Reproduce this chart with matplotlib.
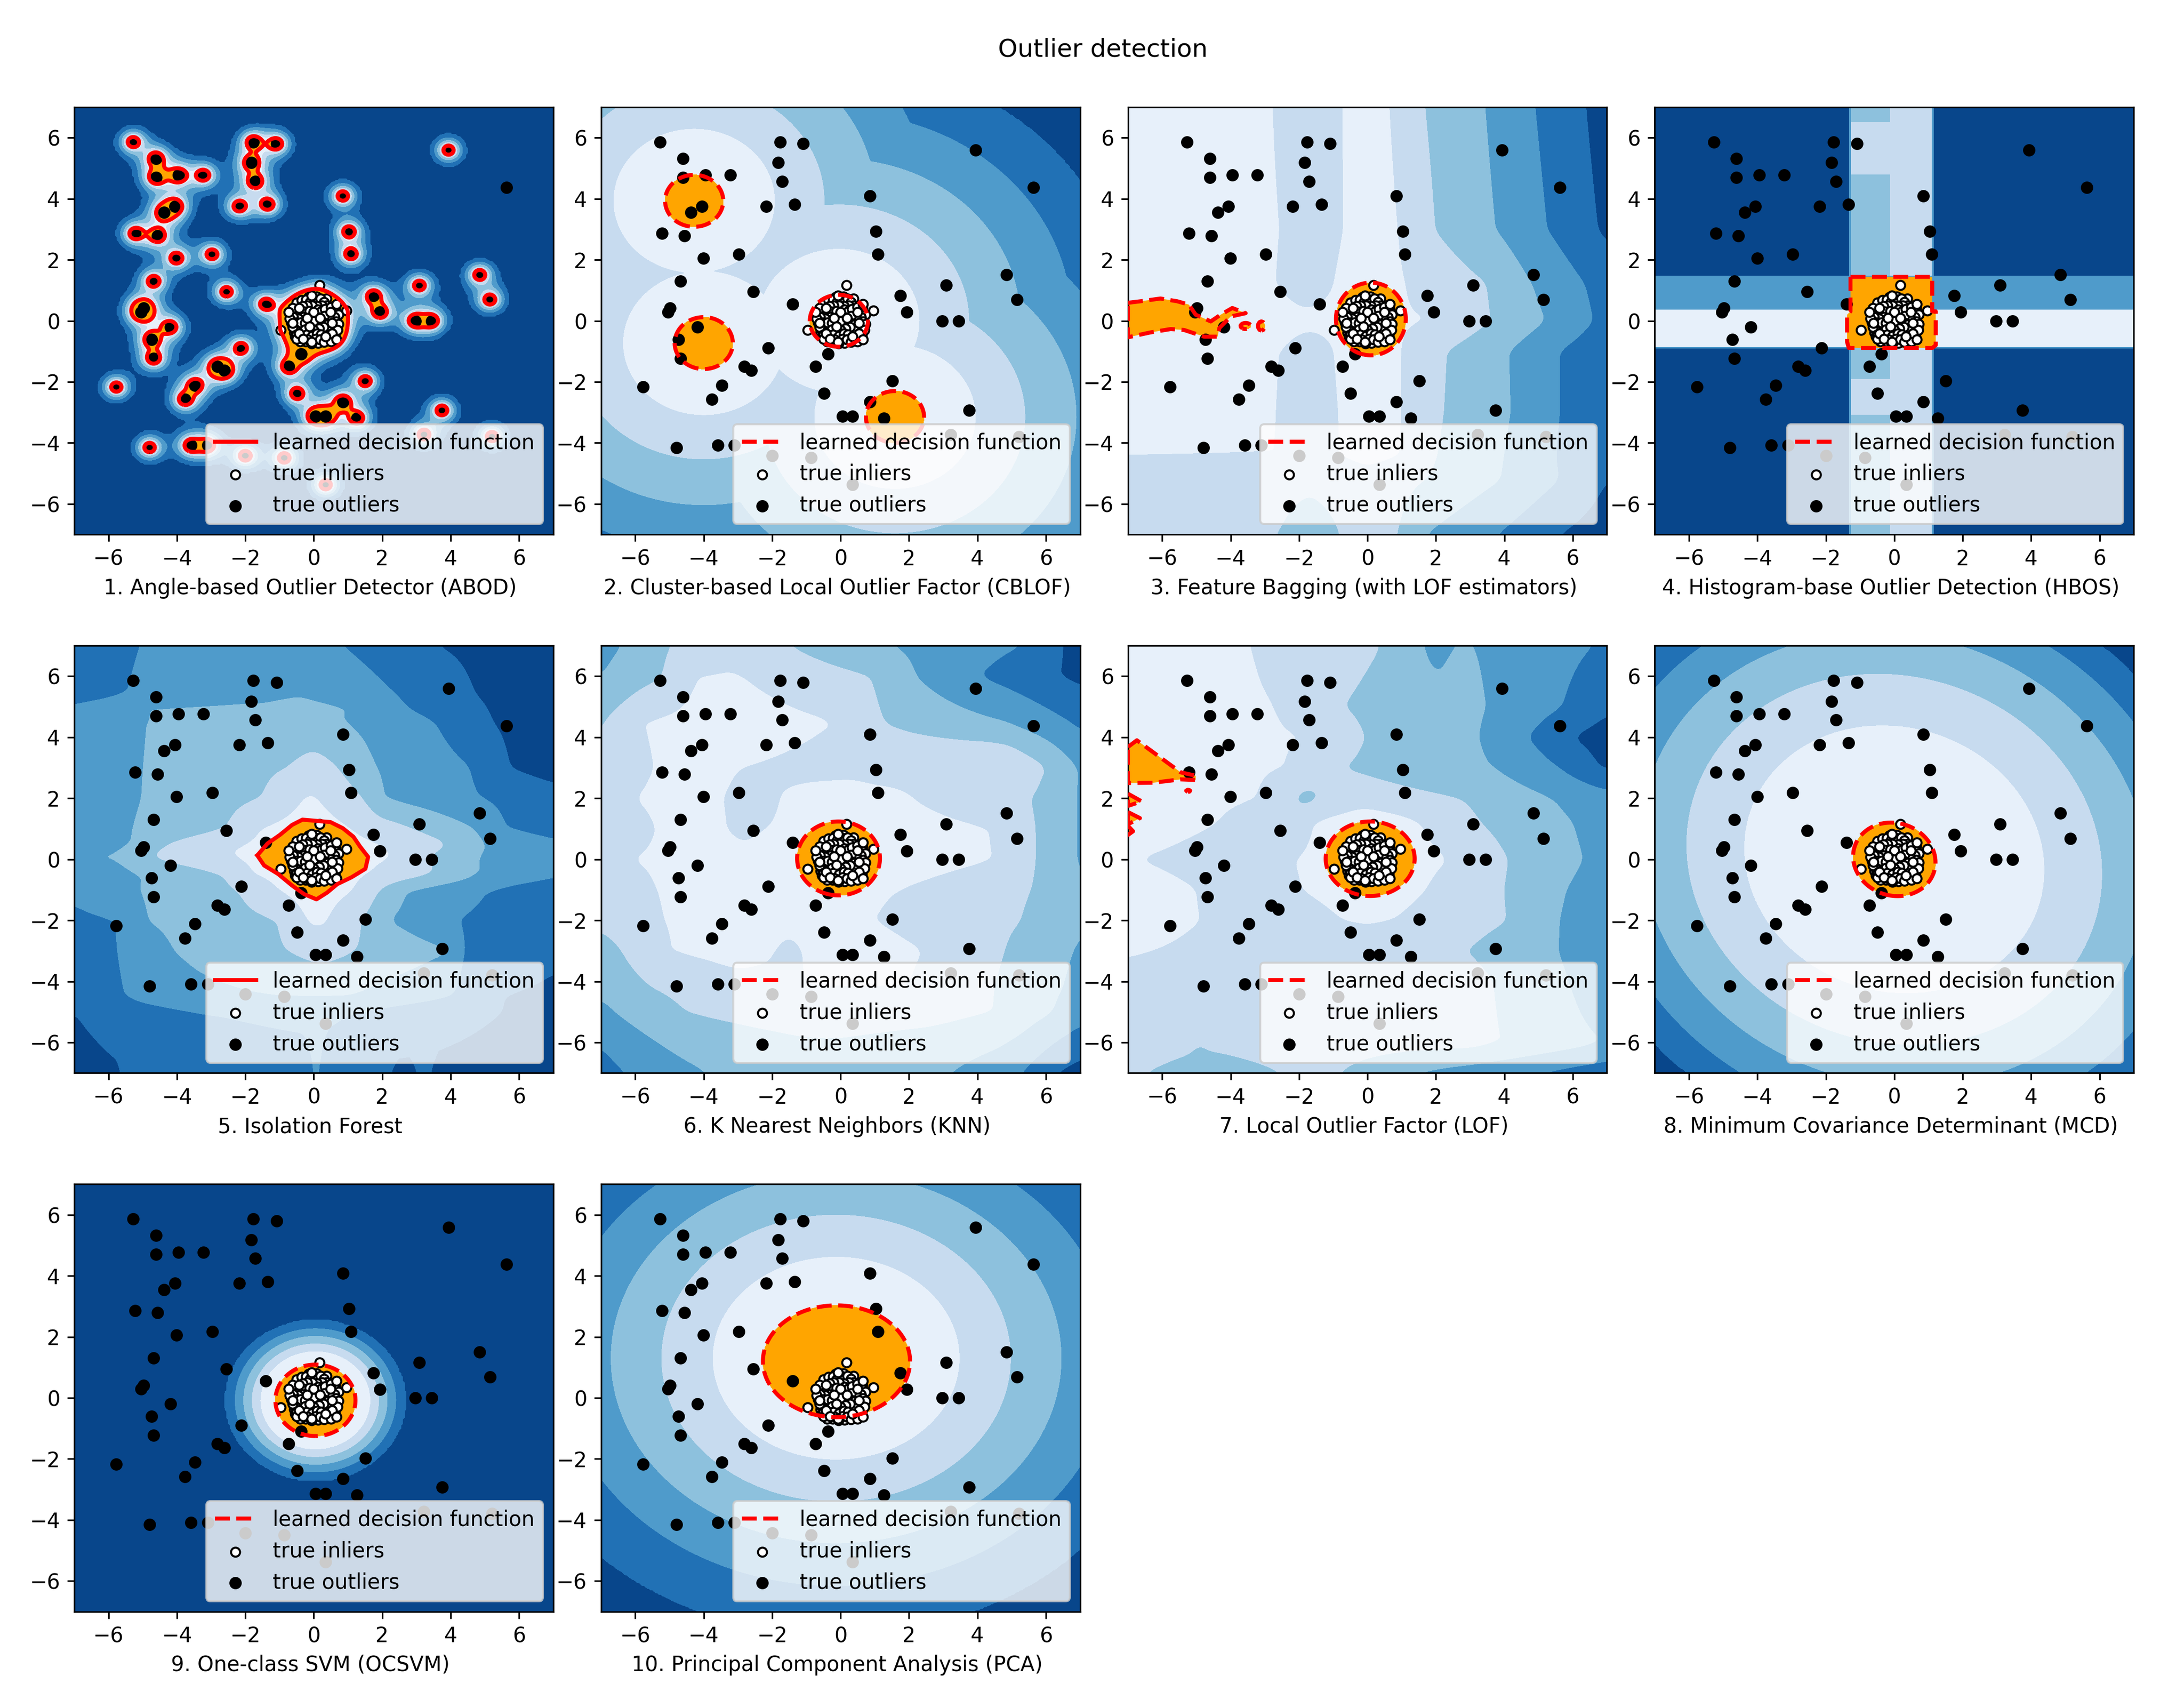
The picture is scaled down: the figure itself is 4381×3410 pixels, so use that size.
import numpy as np
from matplotlib import pyplot as plt

titles = [
    "1. Angle-based Outlier Detector (ABOD)",
    "2. Cluster-based Local Outlier Factor (CBLOF)",
    "3. Feature Bagging (with LOF estimators)",
    "4. Histogram-base Outlier Detection (HBOS)",
    "5. Isolation Forest",
    "6. K Nearest Neighbors (KNN)",
    "7. Local Outlier Factor (LOF)",
    "8. Minimum Covariance Determinant (MCD)",
    "9. One-class SVM (OCSVM)",
    "10. Principal Component Analysis (PCA)",
]

outliers_x = [-5.28, -4.61, -4.61, -3.95, -3.22, -4.06, -4.37, -5.22, -4.56, -4.01,
              -2.97, -4.68, -2.55, -4.98, -5.04, -4.19, -4.74, -4.68, -2.12, -2.81,
              -2.61, -3.47, -3.76, -5.77, -4.80, -3.59, -3.10, -2.00, -0.86, 0.35,
              3.22, 5.21, -1.77, -1.09, -1.83, -1.71, -2.18, -1.34, 0.85, 1.03,
              1.09, 3.94, 5.63, 4.85, 5.15, 3.09, 1.75, 1.94, 2.97, 3.45,
              -1.40, -0.37, -0.73, -0.49, 1.51, 0.85, 0.05, 0.35, 1.27, 3.75]
outliers_y = [5.86, 5.32, 4.70, 4.77, 4.77, 3.75, 3.55, 2.86, 2.79, 2.05,
              2.18, 1.30, 0.95, 0.41, 0.29, -0.20, -0.61, -1.23, -0.89, -1.50,
              -1.63, -2.11, -2.58, -2.17, -4.15, -4.08, -4.08, -4.42, -4.49, -5.37,
              -3.73, -3.79, 5.86, 5.80, 5.18, 4.57, 3.75, 3.81, 4.09, 2.93,
              2.18, 5.59, 4.37, 1.51, 0.69, 1.16, 0.82, 0.28, 0.00, 0.00,
              0.55, -1.09, -1.50, -2.38, -1.97, -2.65, -3.13, -3.13, -3.19, -2.93]

inliers_x = [-0.42, -0.28, -0.15, 0.00, 0.08, 0.26, 0.35, 0.44, 0.17, -0.10, -0.38, -0.48,
             -0.62, -0.34, -0.18, 0.06, 0.27, 0.40, 0.55, 0.64, 0.52, 0.36, 0.14, -0.02,
             -0.22, -0.36, -0.55, -0.66, -0.44, -0.30, -0.14, 0.02, 0.20, 0.34, 0.48, 0.60,
             0.68, 0.60, 0.46, 0.33, 0.19, 0.05, -0.10, -0.26, -0.40, -0.58, -0.54, -0.40,
             -0.28, -0.10, 0.06, 0.24, 0.37, 0.51, 0.62, 0.48, 0.28, 0.12, -0.06, -0.24,
             -0.40, 0.38, 0.08,
             -0.50, -0.35, -0.22, -0.10, 0.05, 0.12, 0.20, 0.30, 0.38, 0.25, 0.10, -0.05,
             -0.20, -0.32, -0.55, -0.40, -0.28, -0.12, 0.12, 0.22, 0.33, 0.62, 0.72, 0.60,
             0.45, 0.30, 0.05, -0.08, -0.30, -0.45, -0.60, -0.70, -0.52, -0.38, -0.25, -0.02,
             0.10, 0.28, 0.40, 0.65, 0.72, 0.70, 0.42, 0.28, 0.15, 0.00, -0.25, -0.55,
             -0.62, -0.50, -0.35, -0.20, -0.05, 0.10, 0.22, 0.42, 0.58, -0.18, 0.05, 0.18,
             0.30, -0.50, 0.50, -0.62, 0.50, 0.00,
             0.17, -0.07, -0.43, -0.73, 0.00, 0.66, 0.96, 0.49, 0.18, -0.19,
             -0.61, -0.12, 0.54, -0.97, -0.43, 0.54, -0.31, -0.07, 0.66, 0.34]
inliers_y = [0.54, 0.58, 0.78, 0.55, 0.80, 0.68, 0.56, 0.38, 0.42, 0.40, 0.36, 0.18,
             0.20, 0.20, 0.22, 0.24, 0.24, 0.25, 0.18, 0.42, 0.04, 0.02, 0.00, 0.06,
             0.02, -0.02, -0.12, -0.05, -0.18, -0.16, -0.14, -0.16, -0.12, -0.18, -0.02, -0.16,
             -0.24, -0.40, -0.36, -0.34, -0.34, -0.40, -0.36, -0.38, -0.36, -0.38, -0.52, -0.58,
             -0.52, -0.58, -0.52, -0.54, -0.60, -0.62, -0.48, -0.40, -0.62, -0.72, -0.74, -0.68,
             -0.68, 0.72, -0.18,
             0.60, 0.68, 0.70, 0.62, 0.70, 0.62, 0.72, 0.62, 0.50, 0.50, 0.48, 0.50,
             0.50, 0.48, 0.30, 0.25, 0.30, 0.32, 0.36, 0.30, 0.38, 0.30, 0.20, 0.12,
             0.12, 0.15, 0.15, 0.12, 0.12, 0.08, 0.12, 0.08, -0.05, -0.05, -0.08, -0.02,
             -0.08, -0.05, -0.12, -0.02, -0.10, -0.30, -0.28, -0.20, -0.25, -0.30, -0.28, -0.28,
             -0.20, -0.45, -0.48, -0.45, -0.50, -0.42, -0.45, -0.52, -0.55, -0.62, -0.60, -0.62,
             -0.70, -0.60, -0.68, 0.42, 0.45, 0.00,
             1.16, 0.83, 0.42, 0.29, 0.29, 0.55, 0.34, 0.29, 0.09, 0.09,
             -0.08, -0.19, -0.08, -0.31, -0.41, -0.41, -0.60, -0.69, -0.62, -0.52]

# soft distance from the points where each colour band stops (ABOD)
abod_radii = [0.15, 0.2, 0.25, 0.32, 0.41, 0.52]
abod_softness = 0.24
abod_inlier_weight = 0.1

cblof_centers_x = [-0.05, -4.28, -4.0, 1.59]
cblof_centers_y = [0.0, 3.93, -0.73, -3.15]
cblof_radii = [0.85, 2.35, 3.8, 5.3, 6.8, 8.4]

hbos_x = [-7, -1.33, -1.26, -0.13, 1.09, 1.16, 7]
hbos_y = [-7, -3.07, -1.9, -0.9, -0.85, 0.37, 1.47, 4.8, 6.5, 7]
hbos_bands = [
    [0, 2, 3, 4, 2, 0],
    [0, 2, 4, 4, 2, 0],
    [0, 2, 3, 4, 2, 0],
    [2, 2, 3, 4, 2, 2],
    [5, 5, 5, 5, 5, 5],
    [2, 2, 2, 2, 2, 2],
    [0, 2, 3, 4, 2, 0],
    [0, 2, 4, 4, 2, 0],
    [0, 2, 3, 4, 2, 0],
]
hbos_outline_x = [-1.28, 1.11, 1.11, 1.21, 1.21, 1.11, -1.33, -1.38, -1.38, -1.28]
hbos_outline_y = [1.44, 1.44, 0.31, 0.31, -0.8, -0.89, -0.89, -0.69, 0.2, 0.31]

# rows of (y, x knots, band value at the knots)
bag_rows = [
    (7, [-7, -2.7, -1.7, -0.7, 0, 0.65, 1.65, 3.45, 4.9, 6.4, 7], [5.5, 5, 4.5, 5, 5.5, 5, 4, 3, 2, 1, 0.5]),
    (3, [-7, -2.5, -1.6, -0.7, 0.1, 0.9, 1.95, 3.75, 5.25, 6.75, 7], [5.5, 5, 4.5, 5, 5.5, 5, 4, 3, 2, 1, 0.8]),
    (1.2, [-7, -2.6, -1.8, -1.0, 0, 1.1, 3.5, 4.8, 6.35, 7], [5.5, 5, 4.5, 5, 5.5, 5, 4, 3, 2, 1.6]),
    (0, [-7, 1.96, 3.6, 5.2, 6.6, 7], [5.6, 5, 4, 3, 2, 1.7]),
    (-1, [-7, -2.5, -1.7, -1, 0, 1.0, 2.3, 4.15, 5.6, 7], [5.5, 5, 4.5, 5, 5.5, 5, 4, 3, 2, 1.3]),
    (-3, [-7, -2.6, -1.7, -0.85, 0, 1.0, 2.2, 4.2, 5.6, 7], [5.5, 5, 4.5, 5, 5.5, 5, 4, 3, 2, 1.3]),
    (-4.4, [-7, -2.6, -1.7, -0.85, 0, 1.0, 2.0, 4.0, 5.5, 7], [5, 5, 4.5, 5, 5.3, 5, 4, 3, 2, 1.2]),
    (-5.2, [-7, -2.6, -1.7, -0.8, 0, 0.9, 1.7, 3.9, 5.6, 7], [4.6, 4.3, 4.2, 4.3, 4.6, 4.3, 4, 3, 2, 1]),
    (-7, [-7, -2.6, -1.7, -0.8, 0, 0.9, 1.7, 3.8, 5.6, 7], [4.5, 4, 3.5, 4, 4.5, 4, 3, 2, 1, 0.5]),
]
bag_blobs = [(0.1, 0.06, 1.02, 1.19), (-3.56, -0.17, 0.15, 0.1), (-3.1, -0.17, 0.1, 0.15)]
bag_outline_x = [-7, -6.63, -6.05, -5.56, -5.22, -5.02, -4.58, -4.29, -3.95, -3.56, -4, -4.33, -4.38, -4.77, -5.36, -5.75, -6.34, -7]
bag_outline_y = [0.59, 0.64, 0.73, 0.64, 0.53, 0.2, -0.02, 0.2, 0.42, 0.25, 0.14, -0.24, -0.52, -0.52, -0.3, -0.27, -0.38, -0.54]

iforest_rows = [
    (7, [-7, -5.1, -2, 0.85, 3.6, 7], [1.5, 2, 2.5, 2, 1, 0.5]),
    (5.4, [-7, -5.1, -2, -0.4, 0.9, 2.4, 4.7, 7], [1.6, 2.1, 2.8, 2.95, 2.6, 2, 1, 0.5]),
    (5.0, [-7, -5, -4.9, -2.5, -1.5, -0.4, 1.0, 2.7, 5, 7], [2.1, 2.6, 3.02, 3.05, 3.05, 3.2, 3, 2, 1, 0.5]),
    (4.5, [-7, -4.9, -2, 0.9, 3.55, 5.2, 7], [2.4, 3, 3.5, 3, 2, 1, 0.5]),
    (3, [-7, -5, -0.75, 0, 0.7, 1.8, 4.6, 5.7, 7], [2.4, 3, 4, 4.5, 4, 3, 2, 1, 0.6]),
    (2, [-7, -5.05, -1.5, -0.3, -0.1, 0.1, 1.45, 2.0, 4.9, 7], [2.3, 3, 4, 5, 5.1, 5, 4, 3, 2, 1.4]),
    (1, [-7, -5.3, -2.55, -1.6, 0, 1.1, 2.9, 4.7, 5.6, 7], [2.3, 3, 4, 5, 5.5, 5, 4, 3, 2, 1.6]),
    (0.5, [-7, -5.3, -4.3, -2.1, 0, 2.0, 4.0, 5, 7], [2.3, 3, 4, 5, 5.5, 5, 4, 3, 2.2]),
    (0.1, [-7, -5.7, -4.9, -2.6, 0, 2.4, 3.4, 4.8, 7], [3.1, 3.1, 4, 5, 5.5, 5, 4, 3, 2.2]),
    (-0.5, [-7, -5, -2.6, -1.8, 0, 1.6, 3.5, 4.8, 7], [2.2, 3, 4, 5, 5.5, 5, 4, 3, 2.2]),
    (-1, [-7, -5.1, -2.2, -1.05, 0, 1.2, 1.9, 2.7, 5.1, 7], [2.2, 3, 4, 5, 5.5, 5, 4, 3, 2, 1.3]),
    (-2, [-7, -5.7, -4.9, -1, -0.2, 0.1, 0.4, 1.4, 2.2, 4.2, 7], [1.8, 2, 3, 4, 5, 5.2, 5, 4, 3, 2, 1.3]),
    (-3, [-7, -5.7, -4.1, -0.75, 0.2, 1.2, 4.0, 4.3, 7], [1.6, 2, 3, 4, 4.4, 4, 3, 2, 1.2]),
    (-4.5, [-7, -5.5, -3.5, -1, 1, 4, 5.5, 7], [1.5, 2, 2.7, 3, 3, 2.0, 1, 0.8]),
    (-5, [-7, -5.6, -3.2, 0, 3, 5.5, 7], [1, 1.6, 2, 2.3, 1.5, 1, 0.7]),
    (-7, [-7, -5.6, -5.5, -0.2, 0, 0.2, 0.3, 2.2, 2.3, 3, 3.05, 3.4, 3.45, 7],
     [0.5, 0.9, 1.3, 1.5, 2.2, 2.2, 1.5, 1.2, 0.8, 0.8, 1.2, 1.2, 0.8, 0.5]),
]
iforest_outline_x = [-1.65, -1.35, -0.99, -0.63, -0.33, 0.08, 0.49, 0.85, 1.16, 1.36, 1.59, 1.51, 1.10, 0.69, 0.39, 0.08, -0.28, -0.63, -1.04, -1.45, -1.65]
iforest_outline_y = [0.13, 0.52, 0.80, 1.13, 1.30, 1.26, 1.22, 1.02, 0.74, 0.41, 0.08, -0.31, -0.59, -0.81, -1.09, -1.31, -1.14, -0.86, -0.48, -0.20, 0.13]

knn_rows = [
    (7, [-7, -6.4, -5, -3.2, -1.5, 1.5, 5.3, 6.5, 7], [2.7, 3, 4, 4.4, 4, 3, 2, 1, 0.6]),
    (6, [-7, -6.2, -5.2, -4.2, -3.2, -1, 0.9, 2.2, 3.6, 6.4, 7], [3, 3.4, 4, 5, 5.1, 4.4, 4, 3, 2.2, 1, 0.8]),
    (4.5, [-7, -6.9, -5.8, -3, -0.2, 1.25, 4.8, 6.7, 7], [3.9, 4, 5, 5.5, 5, 4, 3, 2, 1.8]),
    (3, [-7, -5.5, -4, -2.9, 1, 3.7, 4.3, 4.9, 6, 6.9, 7], [4.3, 5, 5.3, 5, 4.6, 5, 5.1, 5, 4, 3, 2.9]),
    (2, [-7, -6, -4.5, -3.4, -2.6, -1.8, 0.3, 2.1, 5.6, 6.9, 7], [4.3, 5, 5.3, 5, 4.6, 5, 5.5, 5, 4, 3, 2.9]),
    (1, [-7, -5.4, -4.4, -3.3, -2.8, -2.2, 1, 4.4, 5.7, 6.9, 7], [4.4, 5, 5.4, 5, 4.7, 5, 5.5, 5, 4, 3, 2.9]),
    (0, [-7, -6.1, -2, 2, 4.5, 5.7, 6.9, 7], [4.4, 5, 5.5, 5.5, 5, 4, 3, 2.9]),
    (-1, [-7, -5.4, -2, 1.7, 5.6, 7], [4.4, 5, 5.5, 5, 4, 3.1]),
    (-2, [-7, -5.2, -2, 1, 5.3, 7], [4.3, 5, 5.4, 5, 4, 3.1]),
    (-3, [-7, -6.4, -5, -3, -1.9, -1.5, -1.2, 0.7, 2.4, 4.8, 6.8, 7], [3.5, 4, 5, 5.3, 5, 4.7, 5, 5.4, 5, 4, 3, 2.9]),
    (-4.2, [-7, -5.5, -3.5, -1, 2, 4.5, 6.5, 7], [3.3, 4, 4.6, 5, 5, 4, 3, 2.7]),
    (-5, [-7, -6.6, -4.5, -1, 2.5, 4.5, 6.2, 7], [2.7, 3, 4, 4.5, 4.3, 4, 3, 2.4]),
    (-7, [-7, -6.3, -3.9, 0, 3.2, 5.3, 6.3, 7], [1.5, 2, 3, 3.4, 3, 2, 1, 0.6]),
]
knn_blobs = [(-0.06, 0.03, 1.21, 1.21)]

lof_rows = [
    (7, [-7, -3.4, -1.5, 0.4, 1.65, 2, 2.45, 3.2, 6.6, 7], [5.5, 5, 4.5, 4, 3, 2.7, 3, 3, 2, 1.8]),
    (5, [-7, -2.7, -0.7, 3.5, 5.7, 7], [5.5, 5, 4, 3, 2, 1.2]),
    (4, [-7, -1.9, -0.1, 3.3, 4.7, 6, 7], [5.6, 5, 4, 3, 2, 1, 0.5]),
    (3, [-7, -2.4, -0.7, 3.7, 5.6, 6.8, 7], [5.6, 5, 4, 3, 2, 1, 0.9]),
    (2, [-7, -3.2, -2.1, -1.8, -1.4, -0.3, 2.7, 5.4, 7], [5.6, 5, 4, 3.7, 4, 4.5, 4, 3, 2.4]),
    (1.2, [-7, -4.4, -2.7, -2.4, -1.6, 0, 1.55, 3.3, 6, 7], [5.6, 5, 4.3, 4, 5, 5.7, 5, 4, 3, 2.6]),
    (0, [-7, -6.7, -4, -2.1, 0, 2.35, 4.1, 6.3, 7], [5.05, 5, 4.5, 5, 5.7, 5, 4, 3, 2.7]),
    (-1, [-7, -5, -3.5, -1.9, 0, 1.7, 4, 5.8, 7], [5.5, 5, 4.5, 5, 5.6, 5, 4, 3, 2.5]),
    (-2, [-7, -4.9, -2, -0.7, 0, 0.7, 4.1, 5.6, 7], [5.4, 5, 4.5, 5, 5.1, 5, 4, 3, 2.3]),
    (-3, [-7, -6.3, -2, 2.9, 5.6, 7], [5.1, 5, 4.5, 4, 3, 2.2]),
    (-4, [-7, -2, 3, 5.9, 7], [4.6, 4.5, 4.3, 3, 2.2]),
    (-6, [-7, -5.2, -4.9, -4.6, -2, 3, 6.9, 7], [4.5, 4.2, 4, 4.2, 4.5, 4.3, 3, 2.9]),
    (-7, [-7, -6.5, -4.5, -2.5, -1.6, -0.8, 1.3, 4.9, 7], [4.4, 4, 3.5, 4, 4.2, 4, 3, 2, 1.4]),
]
lof_blobs = [(0.08, 0.02, 1.3, 1.22), (-5.24, 2.24, 0.06, 0.04)]
lof_outlines_x = [[-7, -6.74, -5.46, -5.02, -5.02, -5.46, -6.26, -7],
                  [-7, -6.6, -7], [-7, -6.65, -7], [-7, -6.85, -7]]
lof_outlines_y = [[3.68, 3.90, 2.85, 2.74, 2.6, 2.62, 2.51, 2.5],
                  [2.15, 1.9, 1.75], [1.55, 1.35, 1.15], [1.1, 0.92, 0.8]]

# centre x, centre y, y/x axis ratio, tilt, then the radii where the bands stop
mcd_ellipse = (0.0, 0.0, 1.0, 0.08)
mcd_radii = [1.2, 4.37, 6.05, 7.4, 8.6, 9.6]
ocsvm_ellipse = (0.05, -0.08, 1.0, 0.0)
ocsvm_radii = [1.17, 1.6, 1.85, 2.1, 2.35, 2.62]
pca_ellipse = (-0.13, 1.3, 0.92, 0.0)
pca_radii = [2.15, 3.6, 5.1, 6.58, 8.1, 9.85]
pca_blobs = [(-0.12, 1.2, 2.15, 1.83)]

grid = np.linspace(-7, 7, 281)
xx, yy = np.meshgrid(grid, grid)
BAND_LEVELS = [0, 1, 2, 3, 4, 5, 6]

plt.rcParams["font.size"] = 10.25


def smooth(field, width=9):
    # box filter both ways so the row knots don't show as kinks
    kernel = np.ones(width) / width
    pad = width // 2
    padded = np.pad(field, pad, mode="edge")
    padded = np.apply_along_axis(np.convolve, 0, padded, kernel, mode="same")
    padded = np.apply_along_axis(np.convolve, 1, padded, kernel, mode="same")
    return padded[pad:-pad, pad:-pad]


def rows_to_field(rows):
    rows = sorted(rows, key=lambda r: r[0])
    ys = [r[0] for r in rows]
    fine = np.array([np.interp(grid, r[1], r[2]) for r in rows])
    field = np.array([np.interp(grid, ys, fine[:, i]) for i in range(len(grid))]).T
    return np.clip(smooth(field), 0.01, 5.99)


def radii_to_field(dist, radii):
    return np.interp(dist, radii + [radii[-1] + 50], [5.99, 5, 4, 3, 2, 1, 0.01])


def ellipse_dist(ellipse):
    cx, cy, ratio, tilt = ellipse
    dx = xx - cx
    dy = (yy - cy) / ratio
    return np.sqrt(dx**2 + dy**2 + 2 * tilt * dx * dy)


def blobs_dist(blobs):
    # < 1 means inside one of the blobs
    dists = [np.sqrt(((xx - b[0]) / b[2]) ** 2 + ((yy - b[1]) / b[3]) ** 2) for b in blobs]
    return np.min(dists, axis=0)


def draw_decision(ax, dist, level, style):
    ax.contourf(xx, yy, dist, levels=[dist.min() - 1, level], colors="orange", zorder=2)
    ax.contour(xx, yy, dist, levels=[level], colors="red", linewidths=2, linestyles=style, zorder=4)


def draw_outline(ax, px, py, style):
    ax.fill(px, py, color="orange", lw=0, zorder=2)
    ax.plot(px + [px[0]], py + [py[0]], color="red", lw=2, ls=style, zorder=4)


def abod_dist():
    tau = abod_softness
    total = np.zeros_like(xx)
    for px, py in zip(inliers_x, inliers_y):
        total += abod_inlier_weight * np.exp(-np.hypot(xx - px, yy - py) / tau)
    for px, py in zip(outliers_x, outliers_y):
        if px < 5.5:
            total += np.exp(-np.hypot(xx - px, yy - py) / tau)
    return -tau * np.log(total + 1e-200)


def run():
    fig = plt.figure(figsize=(4381 / 292, 3410 / 292))
    fig.subplots_adjust(left=0.034, bottom=0.052, right=0.977, top=0.937, wspace=0.1, hspace=0.26)

    for i, title in enumerate(titles):
        ax = fig.add_subplot(3, 4, i + 1)
        style = "solid" if i in (0, 4) else "dashed"

        if i == 0:
            dist = abod_dist()
            ax.contourf(xx, yy, radii_to_field(dist, abod_radii), levels=BAND_LEVELS, cmap="Blues_r")
            draw_decision(ax, dist, abod_radii[0], style)
        elif i == 1:
            dists = [np.hypot(xx - cx, yy - cy) for cx, cy in zip(cblof_centers_x, cblof_centers_y)]
            dist = np.min(dists, axis=0)
            ax.contourf(xx, yy, radii_to_field(dist, cblof_radii), levels=BAND_LEVELS, cmap="Blues_r")
            draw_decision(ax, dist, cblof_radii[0], style)
        elif i == 2:
            ax.contourf(xx, yy, rows_to_field(bag_rows), levels=BAND_LEVELS, cmap="Blues_r")
            draw_decision(ax, blobs_dist(bag_blobs), 1, style)
            draw_outline(ax, bag_outline_x, bag_outline_y, style)
        elif i == 3:
            bands = np.array(hbos_bands) + 0.5
            ax.pcolormesh(hbos_x, hbos_y, bands, cmap="Blues_r", vmin=0, vmax=6)
            draw_outline(ax, hbos_outline_x, hbos_outline_y, style)
        elif i == 4:
            ax.contourf(xx, yy, rows_to_field(iforest_rows), levels=BAND_LEVELS, cmap="Blues_r")
            draw_outline(ax, iforest_outline_x, iforest_outline_y, style)
        elif i == 5:
            ax.contourf(xx, yy, rows_to_field(knn_rows), levels=BAND_LEVELS, cmap="Blues_r")
            draw_decision(ax, blobs_dist(knn_blobs), 1, style)
        elif i == 6:
            ax.contourf(xx, yy, rows_to_field(lof_rows), levels=BAND_LEVELS, cmap="Blues_r")
            draw_decision(ax, blobs_dist(lof_blobs), 1, style)
            for px, py in zip(lof_outlines_x, lof_outlines_y):
                draw_outline(ax, px, py, style)
        elif i == 7:
            dist = ellipse_dist(mcd_ellipse)
            ax.contourf(xx, yy, radii_to_field(dist, mcd_radii), levels=BAND_LEVELS, cmap="Blues_r")
            draw_decision(ax, dist, mcd_radii[0], style)
        elif i == 8:
            dist = ellipse_dist(ocsvm_ellipse)
            ax.contourf(xx, yy, radii_to_field(dist, ocsvm_radii), levels=BAND_LEVELS, cmap="Blues_r")
            draw_decision(ax, dist, ocsvm_radii[0], style)
        else:
            dist = ellipse_dist(pca_ellipse)
            ax.contourf(xx, yy, radii_to_field(dist, pca_radii), levels=BAND_LEVELS, cmap="Blues_r")
            draw_decision(ax, blobs_dist(pca_blobs), 1, style)

        line = ax.plot([], [], color="red", lw=2, ls=style)[0]
        b = ax.scatter(inliers_x, inliers_y, c="white", s=20, edgecolors="k", zorder=3)
        c = ax.scatter(outliers_x, outliers_y, c="black", s=26, edgecolors="k", zorder=3)
        ax.legend([line, b, c], ["learned decision function", "true inliers", "true outliers"],
                  prop=dict(size=10.25), loc="lower right")
        ax.set_xlim(-7, 7)
        ax.set_ylim(-7, 7)
        ax.set_xticks(range(-6, 7, 2))
        ax.set_yticks(range(-6, 7, 2))
        ax.set_xlabel(title, x=0.493)

    fig.suptitle("Outlier detection", x=0.505, y=0.978, fontsize=12.3)
    fig.savefig("out.png", dpi=292)


run()
